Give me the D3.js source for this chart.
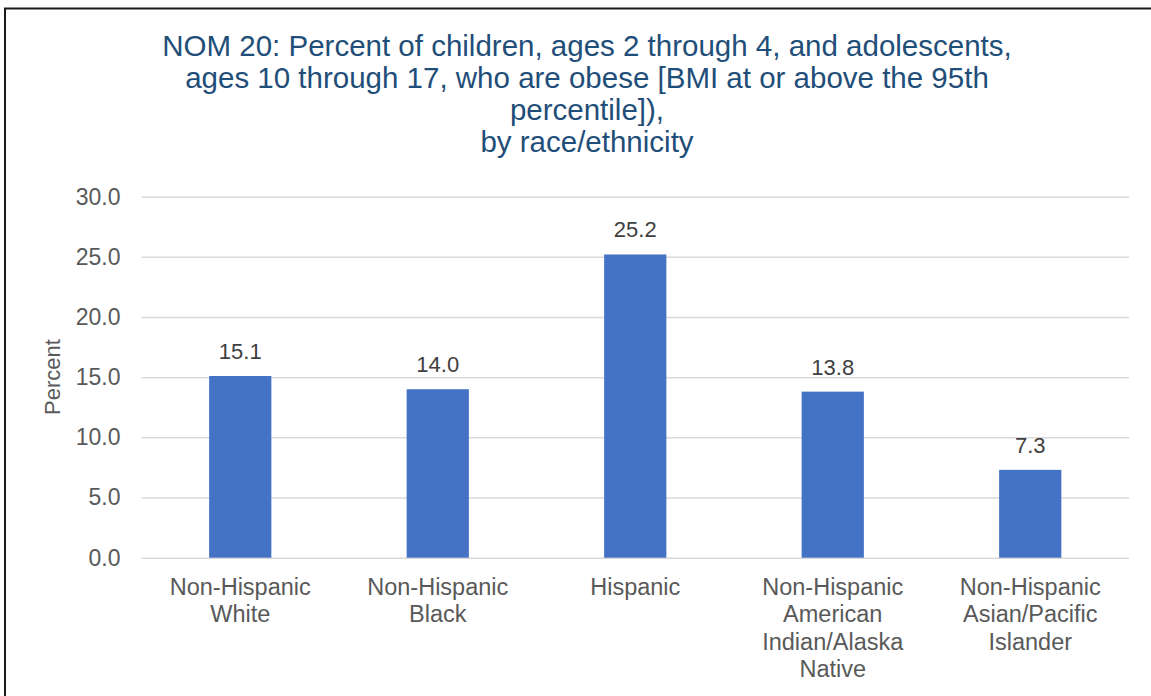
<!DOCTYPE html>
<html>
<head>
<meta charset="utf-8">
<script src="https://cdn.jsdelivr.net/npm/d3@7"></script>
<style>
  html, body { margin: 0; padding: 0; background: #fff; }
  svg { display: block; font-family: "Liberation Sans", Arial, sans-serif; }
</style>
</head>
<body>
<svg id="chart" width="1151" height="696"></svg>
<script>
// Obesity prevalence by race/ethnicity
const titleLines = [
  "NOM 20: Percent of children, ages 2 through 4, and adolescents,",
  "ages 10 through 17, who are obese [BMI at or above the 95th",
  "percentile]),",
  "by race/ethnicity"
];
const categories = [
  "Non-Hispanic\nWhite",
  "Non-Hispanic\nBlack",
  "Hispanic",
  "Non-Hispanic\nAmerican\nIndian/Alaska\nNative",
  "Non-Hispanic\nAsian/Pacific\nIslander"
];
const values = [15.1, 14.0, 25.2, 13.8, 7.3];
const yTicks = [0, 5, 10, 15, 20, 25, 30];
const yLabel = "Percent";

const svg = d3.select("#chart");

// outer frame
svg.append("rect")
  .attr("x", 5).attr("y", 8.5)
  .attr("width", 1160).attr("height", 700)
  .attr("fill", "#fff").attr("stroke", "#1a1a1a").attr("stroke-width", 2);

const plot = { left: 141.5, right: 1129, top: 196.7, bottom: 557.7 };

const x = d3.scaleBand()
  .domain(categories)
  .range([plot.left, plot.right])
  .paddingInner(0.685)
  .paddingOuter(0.3425);

const y = d3.scaleLinear()
  .domain([0, 30])
  .range([plot.bottom, plot.top]);

// title
svg.append("g")
  .selectAll("text")
  .data(titleLines)
  .join("text")
  .attr("x", 587)
  .attr("y", (d, i) => 55.5 + i * 32.3)
  .attr("text-anchor", "middle")
  .attr("fill", "#1F4E79")
  .style("font-size", "29.5px")
  .text(d => d);

// gridlines + y tick labels
const yAxis = d3.axisLeft(y)
  .tickValues(yTicks)
  .tickFormat(d3.format(".1f"))
  .tickSize(-(plot.right - plot.left))
  .tickPadding(21);

const gy = svg.append("g")
  .attr("transform", `translate(${plot.left},0)`)
  .call(yAxis);
gy.select(".domain").remove();
gy.selectAll(".tick line").attr("stroke", "#d9d9d9").attr("stroke-width", 1.5);
gy.selectAll(".tick text")
  .attr("fill", "#595959")
  .style("font-size", "23px")
  .style("font-family", "'Liberation Sans', Arial, sans-serif");

// y axis title
svg.append("text")
  .attr("transform", `translate(60,377) rotate(-90)`)
  .attr("text-anchor", "middle")
  .attr("fill", "#595959")
  .style("font-size", "22px")
  .text(yLabel);

// bars
svg.append("g")
  .selectAll("rect")
  .data(values)
  .join("rect")
  .attr("x", (d, i) => x(categories[i]))
  .attr("y", d => y(d))
  .attr("width", x.bandwidth())
  .attr("height", d => y(0) - y(d))
  .attr("fill", "#4472C4");

// value labels
svg.append("g")
  .selectAll("text")
  .data(values)
  .join("text")
  .attr("x", (d, i) => x(categories[i]) + x.bandwidth() / 2)
  .attr("y", d => y(d) - 17)
  .attr("text-anchor", "middle")
  .attr("fill", "#404040")
  .style("font-size", "22px")
  .text(d => d3.format(".1f")(d));

// category labels
const cat = svg.append("g")
  .selectAll("text")
  .data(categories)
  .join("text")
  .attr("x", d => x(d) + x.bandwidth() / 2)
  .attr("y", 595)
  .attr("text-anchor", "middle")
  .attr("fill", "#595959")
  .style("font-size", "23.5px");
cat.selectAll("tspan")
  .data(d => d.split("\n"))
  .join("tspan")
  .attr("x", function () { return d3.select(this.parentNode).attr("x"); })
  .attr("dy", (d, i) => i === 0 ? 0 : 27.4)
  .text(d => d);
</script>
</body>
</html>
